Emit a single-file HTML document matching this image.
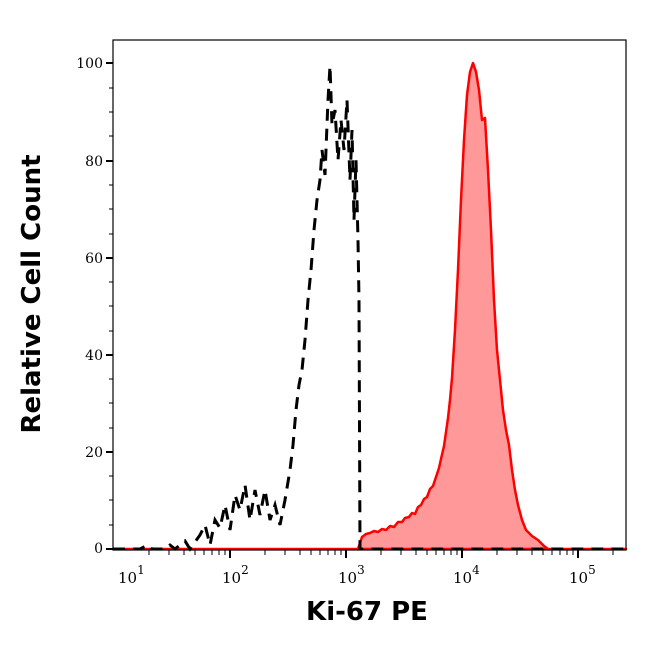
<!DOCTYPE html>
<html><head><style>body{margin:0;background:#fff}</style></head><body>
<svg width="646" height="641" xmlns="http://www.w3.org/2000/svg" font-family="DejaVu Serif, serif">
<rect width="646" height="641" fill="#fff"/>
<path d="M113,549 L358,549 L362,537 L366,534 L370,533 L374,531 L378,532 L382,529 L386,530 L390,526 L394,527 L398,522 L402,522 L405,518 L409,517 L412,513 L415,514 L418,507 L421,505 L424,499 L427,497 L430,489 L433,486 L436,477 L439,468 L441,459 L444,446 L446,432 L448,418 L450,400 L452,378 L455,330 L458,270 L461,200 L464,140 L467,95 L470,72 L473,63 L476,72 L479,90 L482,120 L485,118 L488,170 L491,230 L494,300 L497,350 L500,380 L503,410 L506,430 L509,445 L512,470 L515,490 L518,505 L522,520 L526,530 L532,536 L538,540 L544,546 L548,549 L626,549 Z" fill="#ff9999" stroke="#ff0000" stroke-width="2.5" stroke-linejoin="round"/>
<polyline points="113,549 140,549 148,545 152,549 165,549 170,545 175,549 185,541 190,549 200,535 205,525 210,545 215,520 220,528 225,505 230,530 235,495 240,510 245,485 250,520 255,490 260,515 265,490 270,520 275,505 280,525 285,500 290,470 293,445 296,410 299,385 302,370 305,340 308,300 311,270 314,230 317,200 320,180 322,150 325,175 328,100 330,66 332,125 335,110 338,160 341,120 344,150 347,100 350,180 352,130 354,220 356,160 358,240 359,300 360,549 626,549" fill="none" stroke="#000" stroke-width="3" stroke-dasharray="12,8"/>
<rect x="113" y="40" width="513" height="510" fill="none" stroke="#000" stroke-width="1.2"/>
<g stroke="#000" stroke-width="2">
<line x1="106" y1="549" x2="113" y2="549"/><line x1="106" y1="452" x2="113" y2="452"/><line x1="106" y1="355" x2="113" y2="355"/><line x1="106" y1="258" x2="113" y2="258"/><line x1="106" y1="161" x2="113" y2="161"/><line x1="106" y1="63" x2="113" y2="63"/>
</g>
<g stroke="#000" stroke-width="1">
<line x1="109" y1="525" x2="113" y2="525"/><line x1="109" y1="500" x2="113" y2="500"/><line x1="109" y1="476" x2="113" y2="476"/>
<line x1="109" y1="428" x2="113" y2="428"/><line x1="109" y1="403" x2="113" y2="403"/><line x1="109" y1="379" x2="113" y2="379"/>
<line x1="109" y1="331" x2="113" y2="331"/><line x1="109" y1="306" x2="113" y2="306"/><line x1="109" y1="282" x2="113" y2="282"/>
<line x1="109" y1="234" x2="113" y2="234"/><line x1="109" y1="209" x2="113" y2="209"/><line x1="109" y1="185" x2="113" y2="185"/>
<line x1="109" y1="136" x2="113" y2="136"/><line x1="109" y1="112" x2="113" y2="112"/><line x1="109" y1="88" x2="113" y2="88"/>
</g>
<g font-size="14" text-anchor="end" fill="#000">
<text x="103" y="553">0</text><text x="103" y="457">20</text><text x="103" y="360">40</text><text x="103" y="263">60</text><text x="103" y="166">80</text><text x="103" y="68">100</text>
</g>
<g stroke="#000" stroke-width="2">
<line x1="230" y1="550" x2="230" y2="558"/><line x1="346" y1="550" x2="346" y2="558"/><line x1="462" y1="550" x2="462" y2="558"/><line x1="578" y1="550" x2="578" y2="558"/>
</g>
<g stroke="#000" stroke-width="1">
<line x1="149" y1="550" x2="149" y2="555"/><line x1="169" y1="550" x2="169" y2="555"/><line x1="184" y1="550" x2="184" y2="555"/><line x1="195" y1="550" x2="195" y2="555"/><line x1="204" y1="550" x2="204" y2="555"/><line x1="212" y1="550" x2="212" y2="555"/><line x1="219" y1="550" x2="219" y2="555"/><line x1="225" y1="550" x2="225" y2="555"/>
<line x1="265" y1="550" x2="265" y2="555"/><line x1="285" y1="550" x2="285" y2="555"/><line x1="300" y1="550" x2="300" y2="555"/><line x1="311" y1="550" x2="311" y2="555"/><line x1="320" y1="550" x2="320" y2="555"/><line x1="328" y1="550" x2="328" y2="555"/><line x1="335" y1="550" x2="335" y2="555"/><line x1="341" y1="550" x2="341" y2="555"/>
<line x1="381" y1="550" x2="381" y2="555"/><line x1="401" y1="550" x2="401" y2="555"/><line x1="416" y1="550" x2="416" y2="555"/><line x1="427" y1="550" x2="427" y2="555"/><line x1="436" y1="550" x2="436" y2="555"/><line x1="444" y1="550" x2="444" y2="555"/><line x1="451" y1="550" x2="451" y2="555"/><line x1="457" y1="550" x2="457" y2="555"/>
<line x1="497" y1="550" x2="497" y2="555"/><line x1="517" y1="550" x2="517" y2="555"/><line x1="532" y1="550" x2="532" y2="555"/><line x1="543" y1="550" x2="543" y2="555"/><line x1="552" y1="550" x2="552" y2="555"/><line x1="560" y1="550" x2="560" y2="555"/><line x1="567" y1="550" x2="567" y2="555"/><line x1="573" y1="550" x2="573" y2="555"/>
<line x1="613" y1="550" x2="613" y2="555"/>
</g>
<g font-size="15" fill="#000">
<text x="118" y="583">10<tspan dy="-9" font-size="12">1</tspan></text>
<text x="222" y="583">10<tspan dy="-9" font-size="12">2</tspan></text>
<text x="338" y="583">10<tspan dy="-9" font-size="12">3</tspan></text>
<text x="453" y="583">10<tspan dy="-9" font-size="12">4</tspan></text>
<text x="569" y="583">10<tspan dy="-9" font-size="12">5</tspan></text>
</g>
<text x="367" y="620" font-family="DejaVu Sans, sans-serif" font-weight="bold" font-size="26" text-anchor="middle">Ki-67 PE</text>
<text transform="translate(40,294) rotate(-90)" font-family="DejaVu Sans, sans-serif" font-weight="bold" font-size="26" text-anchor="middle">Relative Cell Count</text>
</svg>
</body></html>
